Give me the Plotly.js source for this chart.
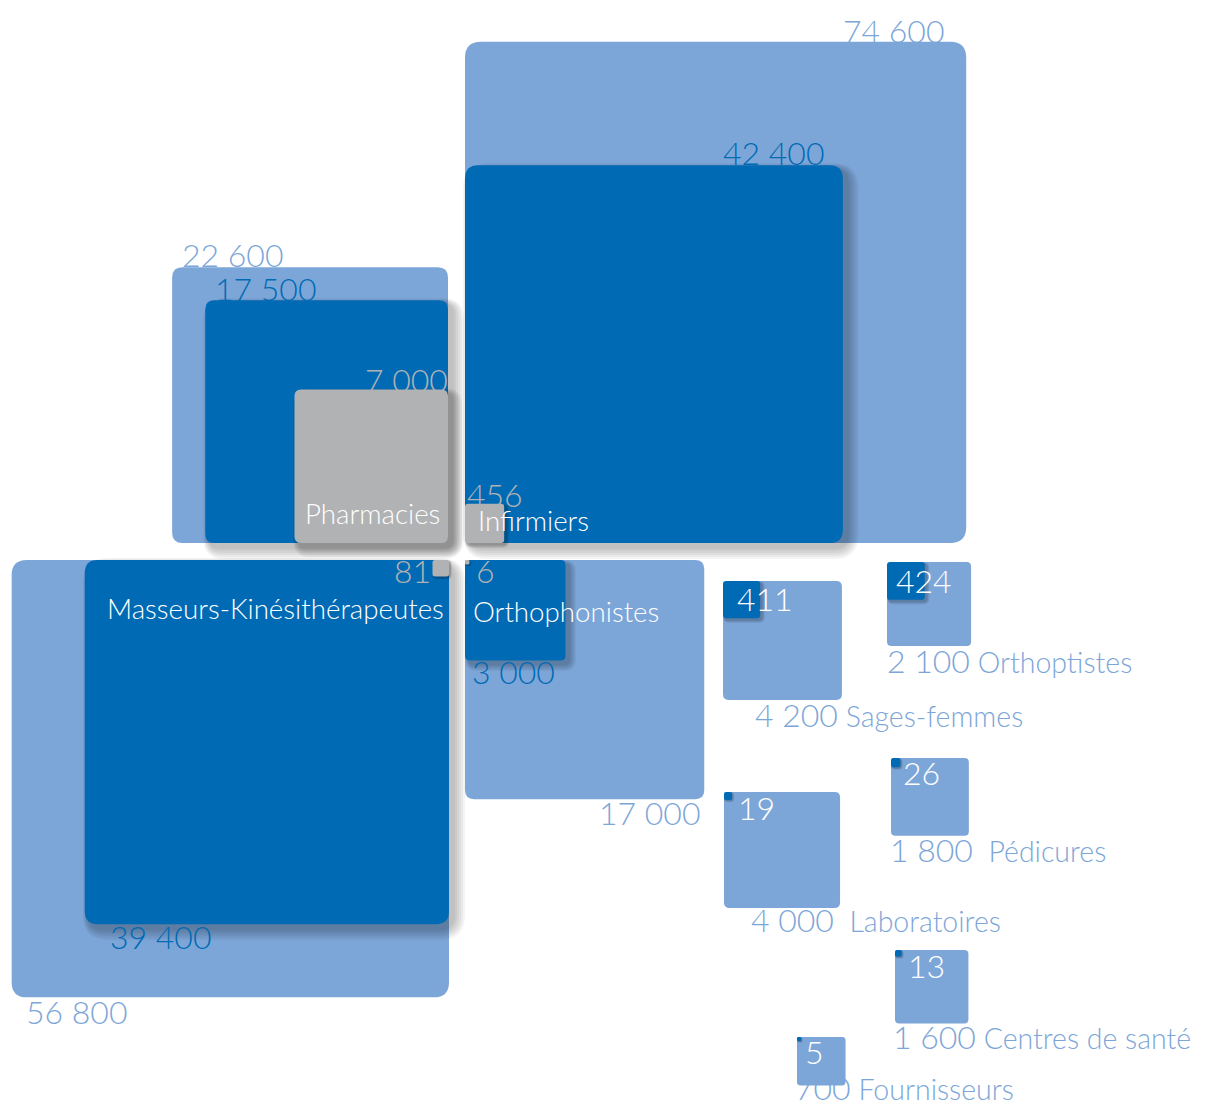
<!DOCTYPE html>
<html>
<head>
<meta charset="utf-8">
<script src="https://cdn.plot.ly/plotly-3.0.1.min.js"></script>
<style>html,body{margin:0;padding:0;background:#fff;}#chart{width:1205px;height:1108px;}</style>
</head>
<body>
<div id="chart"></div>
<script>
// ---- data ----
const categories = ['Infirmiers','Pharmacies','Masseurs-Kinésithérapeutes','Orthophonistes','Sages-femmes','Orthoptistes','Pédicures','Laboratoires','Centres de santé','Fournisseurs'];
const totalValues = [74600, 22600, 56800, 17000, 4200, 2100, 1800, 4000, 1600, 700];
const darkValues = [42400, 17500, 39400, 3000, 411, 424, 26, 19, 13, 5];
const grayValues = [456, 7000, 81, 6, null, null, null, null, null, null];

// ---- layout (positions / styles) ----
const K = 1.835; // px per sqrt(unit)
const anchorX = [465, 448, 449, 465, 723, 887, 891, 724, 895, 797];
const anchorY = [543, 543, 560, 560, 581, 562, 758, 792, 950, 1037];
const anchorCorner = ['bl','br','tr','tl','tl','tl','tl','tl','tl','tl'];
const totalLabelPos = [[946,30,'right'],[181,254,'left'],[25,1011,'left'],[702,812,'right'],[754,714,'left'],[886,660,'left'],[889,849,'left'],[750,919,'left'],[892,1036,'left'],[794,1087,'left']];
const catGap = [null,null,null,null,' ',' ','\u00A0 ','\u00A0 ',' ',' '];
const darkLabelPos = [[826,152,'right'],[214,288,'left'],[109,936,'left'],[471,671,'left'],[736,598,'left'],[895,580,'left'],[902,772,'left'],[737,807,'left'],[907,965,'left'],[804,1051,'left']];
const grayLabelPos = [[466,494,'left'],[449,379,'right'],[432,570,'right'],[475,570,'left']];
const catLabelPos = [[477,520,'left'],[372,513,'center'],[275,608,'center'],[472,611,'left']];

const LIGHT = '#7da6d8', DARK = '#006ab4', GRAY = '#b1b2b4', WHITE = '#ffffff';
const FONT = 'Lato, "Open Sans", sans-serif';
const NUM_SIZE = 32, CAT_SIZE = 27.7, SMALLCAT_SIZE = 28.5;

function fmt(v){ return String(v).replace(/\B(?=(\d{3})+(?!\d))/g, ' '); }

function box(i, v){
  const s = K*Math.sqrt(v), ax = anchorX[i], ay = anchorY[i], c = anchorCorner[i];
  let x0, x1, y0, y1;
  if (c[1] === 'l') { x0 = ax; x1 = ax + s; } else { x1 = ax; x0 = ax - s; }
  if (c[0] === 't') { y0 = ay; y1 = ay + s; } else { y1 = ay; y0 = ay - s; }
  return {x0, x1, y0, y1, s};
}
function rpath(x0,y0,x1,y1,r){
  return `M${x0+r},${y0} L${x1-r},${y0} Q${x1},${y0} ${x1},${y0+r} L${x1},${y1-r} Q${x1},${y1} ${x1-r},${y1} L${x0+r},${y1} Q${x0},${y1} ${x0},${y1-r} L${x0},${y0+r} Q${x0},${y0} ${x0+r},${y0} Z`;
}
function radius(s){ return Math.min(s/4, 2 + 0.03*s, 16); }
function rectShape(b, color, opacity){
  return {type:'path', xref:'x', yref:'y', path: rpath(b.x0,b.y0,b.x1,b.y1,radius(b.s)),
          fillcolor: color, opacity: opacity===undefined?1:opacity, line:{width:0}, layer:'above'};
}
function shadowShapes(b){
  const out = [];
  const spread = Math.min(12, b.s*0.06 + 1);
  const off = Math.min(4, b.s*0.03 + 0.5);
  const n = 6;
  for (let j = n; j >= 1; j--) {
    const e = spread*j/n;
    const bb = {x0:b.x0+off-e*0.5, y0:b.y0+off-e*0.5, x1:b.x1+off+e, y1:b.y1+off+e, s:b.s+e};
    out.push({type:'path', xref:'x', yref:'y', path: rpath(bb.x0,bb.y0,bb.x1,bb.y1,radius(b.s)+e),
              fillcolor:'#000', opacity:0.045, line:{width:0}, layer:'above'});
  }
  return out;
}

const shapes = [];
categories.forEach((c,i)=>{ shapes.push(rectShape(box(i,totalValues[i]), LIGHT)); });
categories.forEach((c,i)=>{
  const b = box(i, darkValues[i]);
  shapes.push(...shadowShapes(b));
  shapes.push(rectShape(b, DARK));
});
categories.forEach((c,i)=>{
  if (grayValues[i] == null) return;
  const b = box(i, grayValues[i]);
  shapes.push(...shadowShapes(b));
  shapes.push(rectShape(b, GRAY));
});

const annotations = [];
function ann(x,y,anchor,text,color,size){
  annotations.push({xref:'x', yref:'y', x, y, xanchor:anchor, yanchor:'middle', text, showarrow:false,
    font:{family:FONT, size, color, weight:300}, borderpad:0});
}
categories.forEach((c,i)=>{
  const p = totalLabelPos[i];
  const t = catGap[i] == null ? fmt(totalValues[i])
    : fmt(totalValues[i]) + `<span style="font-size:${SMALLCAT_SIZE}px">${catGap[i]}${c}</span>`;
  ann(p[0],p[1],p[2],t,LIGHT,NUM_SIZE);
  const d = darkLabelPos[i];
  ann(d[0],d[1],d[2],fmt(darkValues[i]), i<4?DARK:WHITE, NUM_SIZE);
});
grayLabelPos.forEach((p,i)=>{ ann(p[0],p[1],p[2],fmt(grayValues[i]),GRAY,NUM_SIZE); });
catLabelPos.forEach((p,i)=>{ ann(p[0],p[1],p[2],categories[i],WHITE,CAT_SIZE); });

const layout = {
  width:1205, height:1108, margin:{l:0,r:0,t:0,b:0},
  paper_bgcolor:'#fff', plot_bgcolor:'#fff', showlegend:false,
  xaxis:{range:[0,1205], visible:false, fixedrange:true},
  yaxis:{range:[1108,0], visible:false, fixedrange:true},
  shapes, annotations
};
Plotly.newPlot('chart', [{x:[], y:[], type:'scatter', hoverinfo:'skip'}], layout, {staticPlot:true, displayModeBar:false});
</script>
</body>
</html>
